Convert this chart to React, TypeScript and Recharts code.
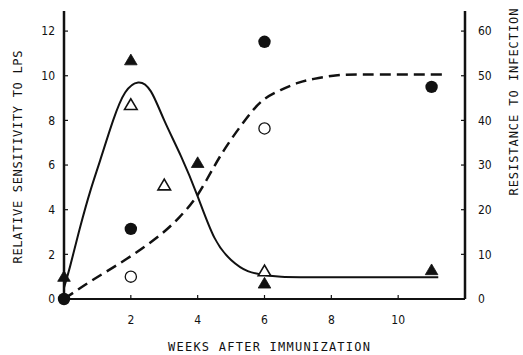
import React from "react";
import {
  ComposedChart,
  Line,
  Scatter,
  XAxis,
  YAxis,
} from "recharts";

// solid curve: relative sensitivity to LPS (left axis)
const sensWeeks = [0, 0.18, 0.48, 0.8, 1.08, 1.47, 1.83, 2.22, 2.6, 3.0, 3.5, 4.0, 4.5, 5.0, 5.5, 6.0, 6.5, 8, 11.2];
const sensValues = [0.5, 1.45, 3.2, 4.9, 6.2, 8.0, 9.25, 9.7, 9.3, 8.0, 6.4, 4.6, 2.75, 1.75, 1.25, 1.07, 1.0, 0.97, 0.97];

// dashed curve: resistance to infection (right axis)
const resWeeks = [0, 0.87, 1.88, 2.87, 3.45, 3.97, 4.48, 4.98, 5.57, 6.0, 6.48, 7.0, 7.48, 8.18, 9, 10, 11.35];
const resValues = [0, 4.3, 9.0, 14.3, 18.3, 23.0, 29.5, 35.5, 41.5, 44.8, 46.8, 48.4, 49.3, 50.1, 50.3, 50.3, 50.3];

// markers
const filledTriWeeks = [0, 2, 4, 6, 11];
const filledTriValues = [1.0, 10.7, 6.1, 0.7, 1.3];
const openTriWeeks = [2, 3, 6];
const openTriValues = [8.7, 5.1, 1.25];
const filledDotWeeks = [0, 2, 6, 11];
const filledDotValues = [0, 15.7, 57.6, 47.5];
const openDotWeeks = [2, 6];
const openDotValues = [5.0, 38.2];

const weekTicks = [2, 4, 6, 8, 10];
const leftTicks = [0, 2, 4, 6, 8, 10, 12];
const rightTicks = [0, 10, 20, 30, 40, 50, 60];

const pairs = (xs: number[], ys: number[]) => xs.map((x, i) => ({ x, y: ys[i] }));

const sensData = pairs(sensWeeks, sensValues);
const resData = pairs(resWeeks, resValues);
const filledTri = pairs(filledTriWeeks, filledTriValues);
const openTri = pairs(openTriWeeks, openTriValues);
const filledDot = pairs(filledDotWeeks, filledDotValues);
const openDot = pairs(openDotWeeks, openDotValues);

const ink = "#111";
const tickFont = { fontFamily: "DejaVu Sans Condensed", fontSize: 12, fill: ink };

const Tri = (props: any, filled: boolean) => {
  const { cx, cy } = props;
  const pts = `${cx},${cy - 6} ${cx - 6.3},${cy + 4.7} ${cx + 6.3},${cy + 4.7}`;
  return (
    <polygon
      points={pts}
      fill={filled ? ink : "#fff"}
      stroke={ink}
      strokeWidth={filled ? 0.8 : 1.6}
      strokeLinejoin="miter"
    />
  );
};

const Dot = (props: any, filled: boolean) => {
  const { cx, cy } = props;
  return filled ? (
    <circle cx={cx} cy={cy} r={6.2} fill={ink} />
  ) : (
    <circle cx={cx} cy={cy} r={5.6} fill="#fff" stroke={ink} strokeWidth={1.3} />
  );
};

// axis titles: own prop names so the label clone does not override them
const Title = (p: { tx: number; ty: number; rot?: number; text: string; len: number }) => (
  <text
    x={p.tx}
    y={p.ty}
    transform={p.rot ? `rotate(${p.rot} ${p.tx} ${p.ty})` : undefined}
    textAnchor="middle"
    textLength={p.len}
    lengthAdjust="spacing"
    fontFamily="DejaVu Sans Mono"
    fontSize={12}
    fill={ink}
  >
    {p.text}
  </text>
);

export default function App() {
  return (
    <div style={{ position: "absolute", left: 0, top: 0, width: 523, height: 355, background: "#fff" }}>
      <ComposedChart width={523} height={355} margin={{ top: 11, right: 0, bottom: 0, left: 0 }}>
        <XAxis
          type="number"
          dataKey="x"
          domain={[0, 12]}
          ticks={weekTicks}
          interval={0}
          height={56}
          tickSize={-4}
          tickMargin={20}
          tick={tickFont}
          axisLine={{ stroke: ink, strokeWidth: 2 }}
          tickLine={{ stroke: ink, strokeWidth: 1.2 }}
          label={<Title tx={269} ty={351} text="WEEKS AFTER IMMUNIZATION" len={202} />}
        />
        <YAxis
          yAxisId="left"
          type="number"
          domain={[0, 12.9]}
          ticks={leftTicks}
          interval={0}
          width={64}
          tickSize={-4}
          tickMargin={13}
          tick={tickFont}
          axisLine={{ stroke: ink, strokeWidth: 2.5 }}
          tickLine={{ stroke: ink, strokeWidth: 1.2 }}
          label={<Title tx={22} ty={157} rot={-90} text="RELATIVE SENSITIVITY TO LPS" len={213} />}
        />
        <YAxis
          yAxisId="right"
          orientation="right"
          type="number"
          domain={[0, 64.5]}
          ticks={rightTicks}
          interval={0}
          width={58}
          tickSize={-4}
          tickMargin={17}
          tick={{ ...tickFont, textAnchor: "start" }}
          axisLine={{ stroke: ink, strokeWidth: 2.5 }}
          tickLine={{ stroke: ink, strokeWidth: 1.2 }}
          label={<Title tx={518} ty={102} rot={-90} text="RESISTANCE TO INFECTION" len={187} />}
        />
        <Line
          yAxisId="left"
          data={sensData}
          dataKey="y"
          type="natural"
          stroke={ink}
          strokeWidth={2}
          dot={false}
          activeDot={false}
          isAnimationActive={false}
        />
        <Line
          yAxisId="right"
          data={resData}
          dataKey="y"
          type="natural"
          stroke={ink}
          strokeWidth={2.5}
          strokeDasharray="11 6"
          dot={false}
          activeDot={false}
          isAnimationActive={false}
        />
        <Scatter yAxisId="left" data={openTri} dataKey="y" shape={(p: any) => Tri(p, false)} isAnimationActive={false} />
        <Scatter yAxisId="left" data={filledTri} dataKey="y" shape={(p: any) => Tri(p, true)} isAnimationActive={false} />
        <Scatter yAxisId="right" data={openDot} dataKey="y" shape={(p: any) => Dot(p, false)} isAnimationActive={false} />
        <Scatter yAxisId="right" data={filledDot} dataKey="y" shape={(p: any) => Dot(p, true)} isAnimationActive={false} />
      </ComposedChart>
    </div>
  );
}
